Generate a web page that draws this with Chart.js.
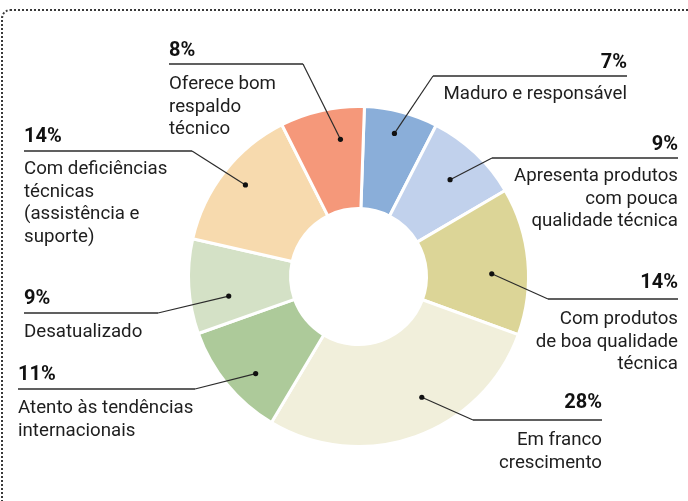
<!DOCTYPE html>
<html>
<head>
<meta charset="utf-8">
<script src="https://cdn.jsdelivr.net/npm/chart.js@4"></script>
<style>
html, body { margin: 0; padding: 0; background: #fff; }
#wrap { position: relative; width: 688px; height: 501px; overflow: hidden; }
#frame { position: absolute; left: 1px; top: 9px; width: 720px; height: 540px;
  border-top: 2px dotted #3a3a3a; border-left: 2px dotted #3a3a3a; border-top-left-radius: 9px; }
canvas { position: absolute; left: 0; top: 0; }
</style>
</head>
<body>
<div id="wrap">
  <div id="frame"></div>
  <canvas id="grafico" width="688" height="501"></canvas>
</div>
<script>
// dados (em sentido horário a partir do topo)
categorias = [
    ['Maduro e responsável'],
    ['Apresenta produtos', 'com pouca', 'qualidade técnica'],
    ['Com produtos', 'de boa qualidade', 'técnica'],
    ['Em franco', 'crescimento'],
    ['Atento às tendências', 'internacionais'],
    ['Desatualizado'],
    ['Com deficiências', 'técnicas', '(assistência e', 'suporte)'],
    ['Oferece bom', 'respaldo', 'técnico']
]
valores = [7, 9, 14, 28, 11, 9, 14, 8]
rotulos = ['7%', '9%', '14%', '28%', '11%', '9%', '14%', '8%']
cores = ['#8aaed9', '#c1d1ec', '#dcd597', '#f1efdb', '#adca9a', '#d4e1c6', '#f7daae', '#f5987a']

// posição das etiquetas: lado, x da âncora, y do %, y da linha, x da ponta da linha, y da 1a linha de texto
// t = onde fica o ponto ao longo da fatia (0..1), f = fração da espessura do anel
posicoes = [
    { lado: 'd', x: 627, yPct: 68,  yLinha: 76,  xPonta: 433, yTexto: 99,  t: 0.48, f: 0.78 },
    { lado: 'd', x: 678, yPct: 150, yLinha: 158, xPonta: 492, yTexto: 181, t: 0.50, f: 0.64 },
    { lado: 'd', x: 678, yPct: 288, yLinha: 299, xPonta: 548, yTexto: 324, t: 0.58, f: 0.64 },
    { lado: 'd', x: 602, yPct: 408, yLinha: 420, xPonta: 473, yTexto: 445, t: 0.42, f: 0.67 },
    { lado: 'e', x: 18,  yPct: 380, yLinha: 389, xPonta: 195, yTexto: 413, t: 0.40, f: 0.72 },
    { lado: 'e', x: 24,  yPct: 304, yLinha: 313, xPonta: 158, yTexto: 337, t: 0.34, f: 0.62 },
    { lado: 'e', x: 24,  yPct: 142, yLinha: 151, xPonta: 192, yTexto: 174, t: 0.52, f: 0.76 },
    { lado: 'e', x: 169, yPct: 56,  yLinha: 64,  xPonta: 303, yTexto: 89,  t: 0.67, f: 0.69 }
]

const etiquetas = {
    id: 'etiquetas',
    afterDraw(chart) {
        const ctx = chart.ctx
        const arcos = chart.getDatasetMeta(0).data
        ctx.save()
        arcos.forEach((arco, i) => {
            const p = posicoes[i]
            const a = arco.startAngle + p.t * (arco.endAngle - arco.startAngle)
            const r = arco.innerRadius + p.f * (arco.outerRadius - arco.innerRadius)
            const px = arco.x + Math.cos(a) * r
            const py = arco.y + Math.sin(a) * r

            // linha horizontal + traço até a fatia
            ctx.strokeStyle = '#2b2b2b'
            ctx.lineWidth = 1.5
            ctx.beginPath()
            ctx.moveTo(p.x, p.yLinha)
            ctx.lineTo(p.xPonta, p.yLinha)
            ctx.stroke()
            ctx.lineWidth = 1.2
            ctx.beginPath()
            ctx.moveTo(p.xPonta, p.yLinha)
            ctx.lineTo(px, py)
            ctx.stroke()
            ctx.fillStyle = '#111'
            ctx.beginPath()
            ctx.arc(px, py, 2.6, 0, Math.PI * 2)
            ctx.fill()

            ctx.textAlign = p.lado == 'd' ? 'right' : 'left'
            ctx.textBaseline = 'alphabetic'
            ctx.fillStyle = '#111'
            ctx.font = 'bold 20px Roboto'
            ctx.fillText(rotulos[i], p.x, p.yPct)
            ctx.fillStyle = '#1e1e1e'
            ctx.font = '18.7px Roboto'
            categorias[i].forEach((linha, j) => {
                ctx.fillText(linha, p.x, p.yTexto + j * 22.5)
            })
        })
        ctx.restore()
    }
}

new Chart(document.getElementById('grafico'), {
    type: 'doughnut',
    data: {
        labels: categorias.map(c => c.join(' ')),
        datasets: [{
            data: valores,
            backgroundColor: cores,
            borderColor: '#ffffff',
            borderWidth: 3
        }]
    },
    options: {
        responsive: false,
        animation: false,
        rotation: 2,
        cutout: '40%',
        layout: { padding: { left: 187, right: 158, top: 105, bottom: 53 } },
        plugins: {
            legend: { display: false },
            tooltip: { enabled: false }
        }
    },
    plugins: [etiquetas]
})
</script>
</body>
</html>
